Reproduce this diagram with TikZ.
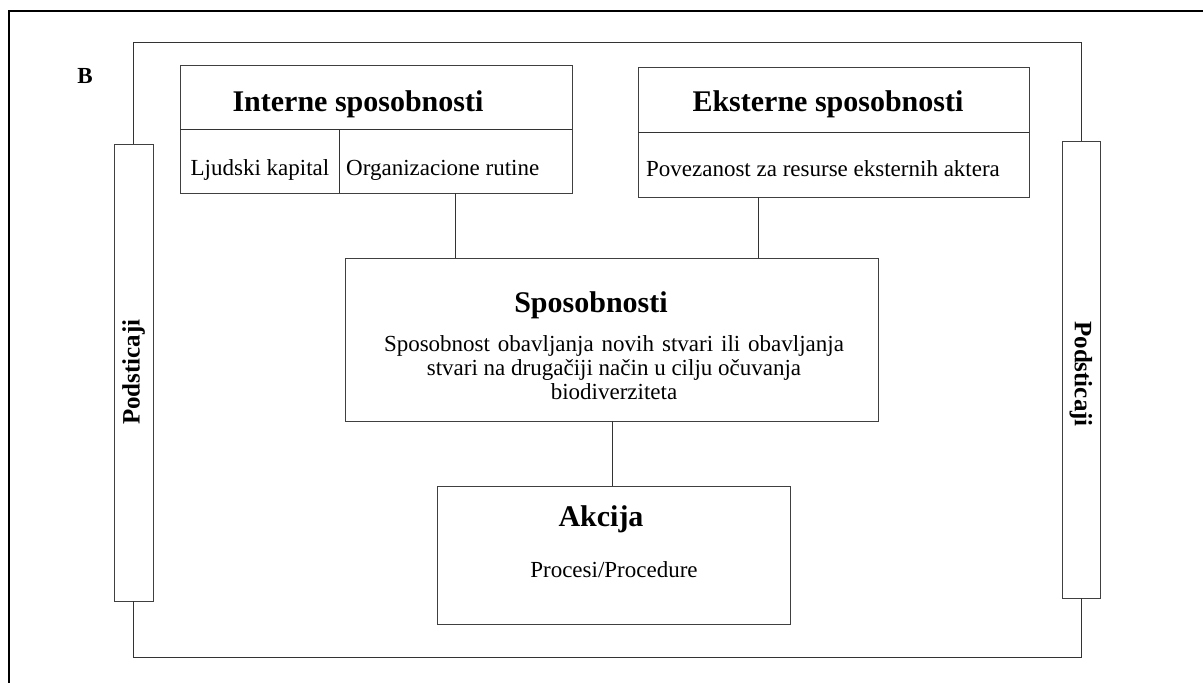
\documentclass[tikz,border=0pt]{standalone}
\usepackage{fontspec}
\setmainfont{Liberation Serif}
\begin{document}
\begin{tikzpicture}[x=1pt,y=-1pt,
  box/.style={draw=black!75,line width=1pt,rectangle,inner sep=0pt,outer sep=0pt},
  link/.style={draw=black!80,line width=1pt},
  frame/.style={draw=black,line width=2pt},
  title/.style={font=\fontsize{30}{34}\selectfont\bfseries,inner sep=0pt},
  body/.style={font=\fontsize{23}{24}\selectfont,inner sep=0pt},
  side/.style={font=\fontsize{25}{28}\selectfont\bfseries,inner sep=0pt}]
\useasboundingbox (0,0) rectangle (1203,683);
% outer frame (open at right and bottom)
\draw[frame] (9,683) -- (9,11) -- (1203,11);
\node[font=\fontsize{23}{25}\selectfont\bfseries,inner sep=0pt] (lab) at (85,76) {B};

% side bars
\node[box,minimum width=39pt,minimum height=457pt] (barL) at (133.5,372.5) {};
\node[box,minimum width=38pt,minimum height=457pt] (barR) at (1081,369.5) {};
\node[side,rotate=90] (pL) at (133.5,372) {Podsticaji};
\node[side,rotate=-90] (pR) at (1081,374) {Podsticaji};

% loop joining the bars
\coordinate (topR) at (1081,42);
\coordinate (botR) at (1081,657);
\draw[link] (barL.north) |- (topR) -- (barR.north);
\draw[link] (barL.south) |- (botR) -- (barR.south);

% internal capabilities
\node[box,minimum width=392pt,minimum height=128pt] (interne) at (376,129) {};
\draw[link] (interne.west) -- (interne.east);
\draw[link] (interne.center -| 339,0) -- (interne.south -| 339,0);
\node[title] (tI) at (358,104) {Interne sposobnosti};
\node[body] (ljud) at (260,170) {Ljudski kapital};
\node[body,anchor=west] (org) at (346,170) {Organizacione rutine};

% external capabilities
\node[box,minimum width=391pt,minimum height=130pt] (eksterne) at (833.5,132) {};
\draw[link] (eksterne.west) -- (eksterne.east);
\node[title] (tE) at (828,104) {Eksterne sposobnosti};
\node[body] (pov) at (823,169) {Povezanost za resurse eksternih aktera};

% capabilities
\node[box,minimum width=533pt,minimum height=163pt] (sposob) at (611.5,339.5) {};
\node[title] (tS) at (591,305) {Sposobnosti};
\node[body,align=center] (sText) at (614,368)
  {\makebox[460pt][s]{Sposobnost obavljanja novih stvari ili obavljanja}\\
   stvari na drugačiji način u cilju očuvanja\\
   biodiverziteta};

% action
\node[box,minimum width=353pt,minimum height=138pt] (akcija) at (613.5,555) {};
\node[title] (tA) at (601,519) {Akcija};
\node[body] (proc) at (614,570) {Procesi/Procedure};

% connectors
\draw[link] (interne.south -| 455,0) -- (sposob.north -| 455,0);
\draw[link] (eksterne.south -| 758,0) -- (sposob.north -| 758,0);
\draw[link] (sposob.south -| 612,0) -- (akcija.north -| 612,0);
\end{tikzpicture}
\end{document}
